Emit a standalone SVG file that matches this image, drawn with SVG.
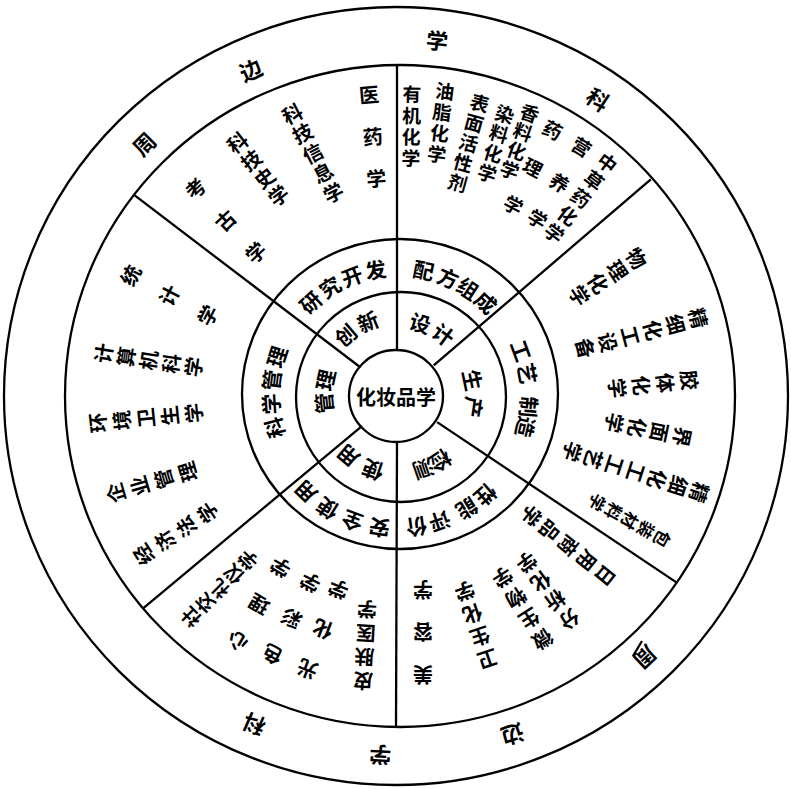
<svg xmlns="http://www.w3.org/2000/svg" width="791" height="789" viewBox="0 0 791 789">
<style>
.ln{fill:none;stroke:#000;stroke-width:2.3}
.t{font-family:"Noto Sans CJK SC","Noto Sans CJK JP",sans-serif;font-weight:700;fill:#000;text-anchor:middle;dominant-baseline:central;font-size:20px}
.s{font-size:19px}
.n{font-size:17px}
.r{font-size:21px}
.o{font-size:22px}
</style>
<rect width="791" height="789" fill="#fff"/>
<g id="rings">
<ellipse class="ln" cx="396" cy="396" rx="392" ry="389"/>
<ellipse class="ln" cx="400" cy="396" rx="335" ry="331"/>
<ellipse class="ln" cx="400" cy="394" rx="158" ry="155"/>
<ellipse class="ln" cx="401" cy="397" rx="105" ry="105"/>
<ellipse class="ln" cx="396" cy="396" rx="47" ry="46"/>
</g>
<g id="connectors">
<line class="ln" x1="397" y1="350" x2="397" y2="65"/>
<line class="ln" x1="397" y1="442" x2="396" y2="727"/>
<line class="ln" x1="360.6" y1="367.5" x2="134.7" y2="195.4"/>
<line class="ln" x1="433.7" y1="365.4" x2="650.8" y2="179.3"/>
<line class="ln" x1="361.9" y1="426.1" x2="143.7" y2="607.9"/>
<line class="ln" x1="437.1" y1="422.1" x2="676.4" y2="582.4"/>
<line class="ln" x1="633" y1="656" x2="642" y2="641" stroke-width="1.2"/>
</g>
<g id="center"><text class="t" x="396" y="396">化妆品学</text></g>
<g id="ring-outer">
<text class="t o" transform="rotate(-45.2 398 396)" x="398" y="37">周</text>
<text class="t o" transform="rotate(-24.3 398 396)" x="398" y="37">边</text>
<text class="t o" transform="rotate(6.3 398 396)" x="398" y="37">学</text>
<text class="t o" transform="rotate(34 398 396)" x="398" y="37">科</text>
<text class="t o" transform="rotate(136.6 398 396)" x="398" y="35">周</text>
<text class="t o" transform="rotate(161.3 398 396)" x="398" y="37">边</text>
<text class="t o" transform="rotate(182.8 398 396)" x="398" y="35">学</text>
<text class="t o" transform="rotate(203.7 398 396)" x="398" y="36">科</text>
</g>
<g id="ring3">
<text class="t r" transform="rotate(-43 398 396)" x="398" y="267">研</text>
<text class="t r" transform="rotate(-32 398 396)" x="398" y="267">究</text>
<text class="t r" transform="rotate(-21 398 396)" x="398" y="267">开</text>
<text class="t r" transform="rotate(-10 398 396)" x="398" y="267">发</text>
<text class="t r" transform="rotate(11.5 398 396)" x="398" y="267">配</text>
<text class="t r" transform="rotate(23 398 396)" x="398" y="267">方</text>
<text class="t r" transform="rotate(33 398 396)" x="398" y="267">组</text>
<text class="t r" transform="rotate(43.2 398 396)" x="398" y="267">成</text>
<text class="t r" transform="rotate(69.8 398 396)" x="398" y="264">工</text>
<text class="t r" transform="rotate(80.1 398 396)" x="398" y="264">艺</text>
<text class="t r" transform="rotate(94.8 398 396)" x="398" y="264">制</text>
<text class="t r" transform="rotate(103.6 398 396)" x="398" y="264">造</text>
<text class="t r" transform="rotate(138.6 398 396)" x="398" y="263">性</text>
<text class="t r" transform="rotate(148.5 398 396)" x="398" y="263">能</text>
<text class="t r" transform="rotate(161.5 398 396)" x="398" y="263">评</text>
<text class="t r" transform="rotate(172 398 396)" x="398" y="263">价</text>
<text class="t r" transform="rotate(188 398 396)" x="398" y="262">安</text>
<text class="t r" transform="rotate(200 398 396)" x="398" y="262">全</text>
<text class="t r" transform="rotate(212 398 396)" x="398" y="262">使</text>
<text class="t r" transform="rotate(224 398 396)" x="398" y="262">用</text>
<text class="t r" transform="rotate(255.6 398 396)" x="398" y="268">科</text>
<text class="t r" transform="rotate(266.4 398 396)" x="398" y="268">学</text>
<text class="t r" transform="rotate(277.2 398 396)" x="398" y="268">管</text>
<text class="t r" transform="rotate(288 398 396)" x="398" y="268">理</text>
</g>
<g id="ring2">
<text class="t r" transform="rotate(-40.7 398 396)" x="398" y="315">创</text>
<text class="t r" transform="rotate(-22 398 396)" x="398" y="315">新</text>
<text class="t r" transform="rotate(17 398 396)" x="398" y="319">设</text>
<text class="t r" transform="rotate(36.4 398 396)" x="398" y="319">计</text>
<text class="t r" transform="rotate(78 398 396)" x="398" y="319">生</text>
<text class="t r" transform="rotate(98.3 398 396)" x="398" y="319">产</text>
<text class="t r" transform="rotate(146.7 398 396)" x="398" y="318">检</text>
<text class="t r" transform="rotate(160.7 398 396)" x="398" y="318">测</text>
<text class="t r" transform="rotate(198.7 398 396)" x="398" y="317">使</text>
<text class="t r" transform="rotate(219.9 398 396)" x="398" y="317">用</text>
<text class="t r" transform="rotate(264.5 398 396)" x="398" y="321">管</text>
<text class="t r" transform="rotate(282.4 398 396)" x="398" y="321">理</text>
</g>
<g id="subjects">
<text class="t" transform="translate(369 94) rotate(-5)" x="0 0 0" y="0 42 84">医药学</text>
<text class="t" transform="translate(292 113) rotate(-27.4)" x="0 0 0 0 0" y="0 22.2 44.5 66.7 89">科技信息学</text>
<text class="t" transform="translate(237 142) rotate(-37.7)" x="0 0 0 0" y="0 22.3 44.6 67">科技史学</text>
<text class="t" transform="translate(195 188) rotate(-43.2)" x="0 0 0" y="0 43.9 87.8">考古学</text>
<text class="t s" transform="translate(412 93) rotate(1)" x="0 0 0 0" y="0 21.3 42.6 64">有机化学</text>
<text class="t s" transform="translate(445 90) rotate(7.2)" x="0 0 0 0" y="0 21.2 42.4 63.6">油脂化学</text>
<text class="t s" transform="translate(480 102) rotate(15.4)" x="0 0 0 0 0" y="0 20.7 41.4 62.1 82.8">表面活性剂</text>
<text class="t s" transform="translate(505 113) rotate(16.5)" x="0 0 0 0" y="0 20.5 41 61.5">染料化学</text>
<text class="t s" transform="translate(530 112) rotate(19.3)" x="0 0 0 0" y="0 20.1 40.2 60.3">香料化学</text>
<text class="t s" transform="translate(553 129) rotate(27.5)" x="0 0 0" y="0 42.3 84.6">药理学</text>
<text class="t s" transform="translate(582 146) rotate(31.4)" x="0 0 0" y="0 42.2 84.4">营养学</text>
<text class="t s" transform="translate(608 162) rotate(37.1)" x="0 0 0 0 0" y="0 22 44 66 88">中草药化学</text>
<text class="t" transform="translate(637 258) rotate(57)" x="0 0 0 0" y="0 22.7 45.4 68">物理化学</text>
<text class="t" transform="translate(699 318) rotate(75.1)" x="0 0 0 0 0 0" y="0 23.4 46.8 70.2 93.6 117">精细化工设备</text>
<text class="t" transform="translate(690 380) rotate(83.7)" x="0 0 0 0" y="0 24.1 48.2 72.3">胶体化学</text>
<text class="t" transform="translate(683 437) rotate(101.6)" x="0 0 0 0" y="0 23.1 46.2 69.4">界面化学</text>
<text class="t" transform="translate(700 493) rotate(107.9)" x="0 0 0 0 0 0 0" y="0 22.25 44.5 66.75 89 111.25 133.5">精细化工工艺学</text>
<text class="t n" transform="translate(663 539) rotate(119)" x="0 0 0 0 0" y="0 18.6 37.2 55.8 74.4">包装材料学</text>
<text class="t" transform="translate(606 576) rotate(129)" x="0 0 0 0 0" y="0 23.8 47.6 71.4 95.2">日用商品学</text>
<text class="t" transform="translate(570 620) rotate(143)" x="0 0 0 0" y="0 23.8 47.6 71.4">分析化学</text>
<text class="t" transform="translate(543 640) rotate(147.2)" x="0 0 0 0" y="0 24.6 49.2 73.8">微生物学</text>
<text class="t" transform="translate(488 660) rotate(161.3)" x="0 0 0 0" y="0 23.9 47.8 71.8">卫生化学</text>
<text class="t" transform="translate(423 675) rotate(180)" x="0 0 0" y="0 42.5 85">美容学</text>
<text class="t" transform="translate(363 682) rotate(183.2)" x="0 0 0 0" y="0 24 48 72">皮肤医学</text>
<text class="t" transform="translate(307 670) rotate(201.2)" x="0 0 0" y="0 42.9 85.8">光化学</text>
<text class="t" transform="translate(272 655) rotate(207.8)" x="0 0 0" y="0 40.7 81.4">色彩学</text>
<text class="t" transform="translate(237 642) rotate(210.2)" x="0 0 0" y="0 42.8 85.6">心理学</text>
<text class="t s" transform="translate(190 618) rotate(225)" x="0 0 0 0 0" y="0 20.2 40.4 60.6 80.8">社交礼仪学</text>
<text class="t" transform="translate(143 555) rotate(236.7)" x="0 0 0 0" y="0 25.5 51 76.6">经济法学</text>
<text class="t" transform="translate(115 493) rotate(253.7)" x="0 0 0 0" y="0 25 50 75">企业管理</text>
<text class="t" transform="translate(97 423) rotate(264.1)" x="0 0 0 0 0" y="0 24.1 48.2 72.3 96.5">环境卫生学</text>
<text class="t" transform="translate(103 353) rotate(278.8)" x="0 0 0 0 0" y="0 22.75 45.5 68.25 91">计算机科学</text>
<text class="t" transform="translate(130 275) rotate(297.5)" x="0 0 0" y="0 43.4 86.8">统计学</text>
</g>
</svg>
